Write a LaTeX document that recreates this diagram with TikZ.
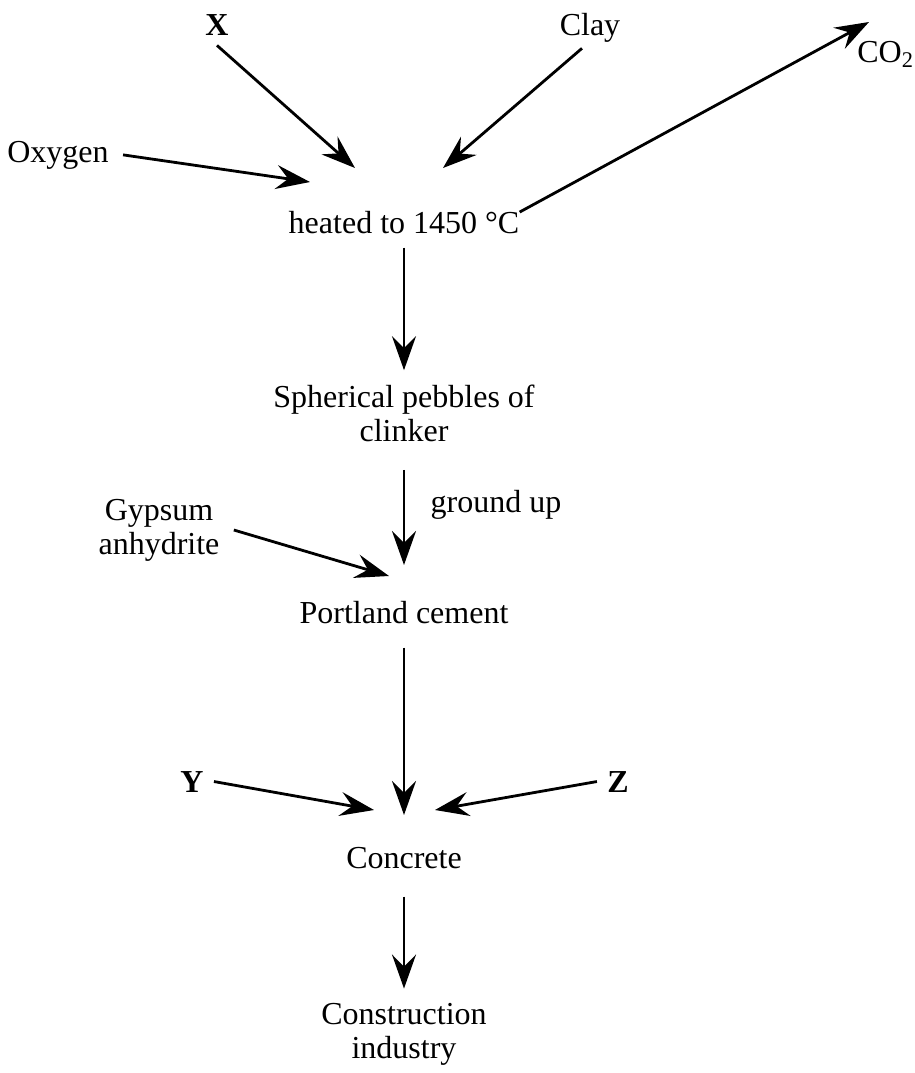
\documentclass[tikz,border=0pt]{standalone}
\usepackage{fontspec}
\setmainfont{Liberation Serif}
\usetikzlibrary{arrows.meta}
\begin{document}
\begin{tikzpicture}[x=0.5pt,y=-0.5pt,font=\fontsize{16}{17}\selectfont,
        every node/.style={align=center,inner sep=7pt},
        letter/.style={font=\fontsize{16}{17}\selectfont\bfseries,inner sep=5pt},
        flow/.style={line width=1.4pt,-{Stealth[length=17pt,width=12pt,inset=6pt]}}]
            \useasboundingbox(0,0)rectangle(915,1073);
            \node[letter,anchor=base](X)at(217,35){X};
            \node[anchor=base](Clay)at(590,35){Clay};
            \node[anchor=base west,inner sep=0pt](CO2)at(857,62){CO\textsubscript{2}};
            \node[anchor=base](Oxy)at(58,162){Oxygen};
            \node[anchor=base](heat)at(404,233){heated to 1450 °C};
            \node(peb)at(404,413){Spherical pebbles of\\clinker};
            \node[anchor=base](grd)at(496,512){ground up};
            \node(gyp)at(159,530){Gypsum\\anhydrite};
            \node[anchor=base](cem)at(404,623){Portland cement};
            \node[letter,anchor=base](Y)at(192,792){Y};
            \node[letter,anchor=base](Z)at(618,792){Z};
            \node[anchor=base](conc)at(404,868){Concrete};
            \node(cons)at(404,1034){Construction\\industry};
            \coordinate(xin)at(355,168);
            \coordinate(clayin)at(443,168);
            \coordinate(oxyin)at(310,182);
            \coordinate(co2out)at(869,22);
            \coordinate(cemin)at(404,565);
            \coordinate(gypin)at(389,576);
            \coordinate(concin)at(404,815);
            \coordinate(yin)at(374,810);
            \coordinate(zin)at(435,810);
            \draw[flow](X.south)--(xin);
            \draw[flow]([xshift=-4pt,yshift=4pt]Clay.south)--(clayin);
            \draw[flow](Oxy.east)--(oxyin);
            \draw[flow]([xshift=-7pt,yshift=5pt]heat.east)--(co2out);
            \draw[flow](heat)--(peb);
            \draw[flow,shorten <=7pt](peb)--(cemin);
            \draw[flow](gyp.east)--(gypin);
            \draw[flow,shorten <=5pt](cem)--(concin);
            \draw[flow](Y.east)--(yin);
            \draw[flow](Z.west)--(zin);
            \draw[flow,shorten <=7pt](conc)--(cons);
        \end{tikzpicture}
\end{document}
